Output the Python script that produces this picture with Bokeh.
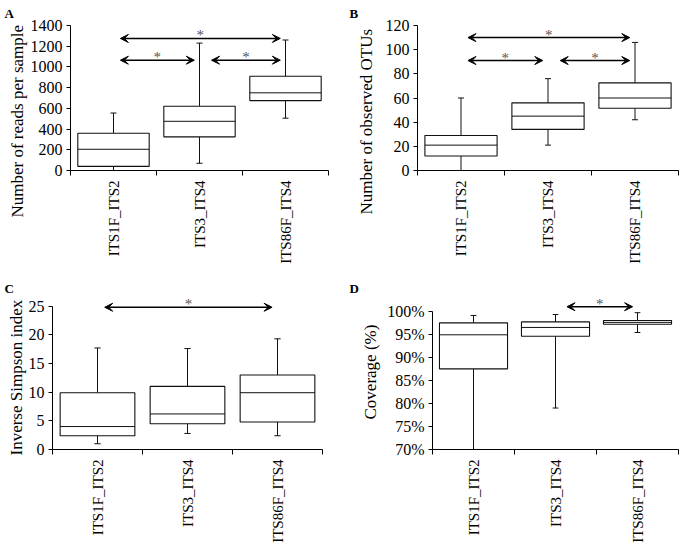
import math
from bokeh.plotting import figure
from bokeh.layouts import column, row
from bokeh.models import (FixedTicker, Arrow, VeeHead, Title, PrintfTickFormatter,
                          Range1d, ColumnDataSource)
from bokeh.embed import file_html
from bokeh.resources import INLINE
from bokeh.core.properties import value

categories = ["ITS1F_ITS2", "ITS3_ITS4", "ITS86F_ITS4"]

# Panel A: number of reads per sample
reads_min = [0, 70, 505]
reads_q1 = [40, 325, 675]
reads_med = [205, 475, 750]
reads_q3 = [360, 620, 910]
reads_max = [555, 1230, 1260]
reads_ticks = [0, 200, 400, 600, 800, 1000, 1200, 1400]
reads_sig = [(0, 2, 1275), (0, 1, 1065), (1, 2, 1065)]

# Panel B: number of observed OTUs
otus_min = [0, 21, 42]
otus_q1 = [12, 34, 51.5]
otus_med = [21, 45, 60]
otus_q3 = [29, 56, 72.5]
otus_max = [60, 76, 106]
otus_ticks = [0, 20, 40, 60, 80, 100, 120]
otus_sig = [(0, 2, 110), (0, 1, 91), (1, 2, 91)]

# Panel C: inverse Simpson index
simpson_min = [1.0, 2.8, 2.4]
simpson_q1 = [2.4, 4.5, 4.8]
simpson_med = [4.0, 6.2, 9.9]
simpson_q3 = [9.9, 11.0, 13.0]
simpson_max = [17.7, 17.6, 19.3]
simpson_ticks = [0, 5, 10, 15, 20, 25]
simpson_sig = [(0, 2, 24.8)]

# Panel D: coverage (%)
coverage_min = [70.0, 79.0, 95.4]
coverage_q1 = [87.5, 94.6, 97.2]
coverage_med = [94.9, 96.5, 97.6]
coverage_q3 = [97.5, 97.7, 98.0]
coverage_max = [99.1, 99.3, 99.7]
coverage_ticks = [70, 75, 80, 85, 90, 95, 100]
coverage_sig = [(1, 2, 101.0)]

FONT = "Liberation Serif"


def make_panel(letter, ylabel, mins, q1s, meds, q3s, maxs, ticks, yrange, sig,
               geom, title_standoff, title_offset, letter_standoff, fmt=None):
    left, fw, right, top, fh, bottom = geom
    n = len(categories)
    p = figure(frame_width=fw, frame_height=fh,
               min_border_left=left, min_border_right=right,
               min_border_top=top, min_border_bottom=bottom,
               x_range=Range1d(0, n), y_range=Range1d(*yrange),
               output_backend="svg", toolbar_location=None, tools="")
    p.xgrid.visible = False
    p.ygrid.visible = False
    p.outline_line_color = None
    p.background_fill_color = "white"
    p.border_fill_color = "white"

    centers = [i + 0.5 for i in range(n)]
    bw = 0.83
    cw = 0.035
    src = ColumnDataSource(dict(x=centers, lo=mins, q1=q1s, med=meds, q3=q3s, hi=maxs,
                                xl=[c - bw / 2 for c in centers], xr=[c + bw / 2 for c in centers],
                                cl=[c - cw for c in centers], cr=[c + cw for c in centers]))
    lc = "#111111"
    p.segment(x0="x", y0="q3", x1="x", y1="hi", source=src, line_color=lc, line_width=1)
    p.segment(x0="x", y0="lo", x1="x", y1="q1", source=src, line_color=lc, line_width=1)
    p.segment(x0="cl", y0="hi", x1="cr", y1="hi", source=src, line_color=lc, line_width=1)
    p.segment(x0="cl", y0="lo", x1="cr", y1="lo", source=src, line_color=lc, line_width=1)
    p.vbar(x="x", width=bw, bottom="q1", top="q3", source=src,
           fill_color="white", line_color=lc, line_width=1.1)
    p.segment(x0="xl", y0="med", x1="xr", y1="med", source=src, line_color=lc, line_width=1)

    # significance arrows
    sx, sy = [], []
    for (i, j, yv) in sig:
        x0 = centers[i] + (0.08 if i == 0 else 0.14)
        x1 = centers[j] - 0.06
        p.add_layout(Arrow(start=VeeHead(size=8, fill_color="black", line_color="black", line_width=1),
                           end=VeeHead(size=8, fill_color="black", line_color="black", line_width=1),
                           x_start=x0, y_start=yv, x_end=x1, y_end=yv,
                           line_color="black", line_width=1.5))
        sx.append((x0 + x1) / 2)
        sy.append(yv)
    p.text(x=sx, y=sy, text=["*"] * len(sx), text_align="center", text_baseline="middle",
           text_font=value(FONT), text_font_size="15px", text_color="#555555", y_offset=-3)

    # y axis
    ya = p.yaxis[0]
    ya.ticker = FixedTicker(ticks=ticks)
    ya.minor_tick_line_color = None
    ya.major_tick_in = 0
    ya.major_tick_out = 4
    ya.major_label_standoff = 4
    ya.axis_line_color = "black"
    ya.major_tick_line_color = "black"
    ya.major_label_text_font = FONT
    ya.major_label_text_font_size = "16px"
    ya.major_label_text_color = "black"
    if fmt is not None:
        ya.formatter = fmt
    ya.bounds = (ticks[0], ticks[-1])

    # y axis title as a side title (to control its position along the axis)
    p.add_layout(Title(text=ylabel, align="left", offset=title_offset,
                       standoff=title_standoff, text_font=FONT, text_font_size="17px",
                       text_font_style="normal", text_color="black"), "left")

    # x axis
    xa = p.xaxis[0]
    xa.ticker = FixedTicker(ticks=centers, minor_ticks=list(range(n + 1)))
    xa.major_label_overrides = {c: name for c, name in zip(centers, categories)}
    xa.major_tick_line_color = None
    xa.major_tick_in = 0
    xa.major_tick_out = 5
    xa.minor_tick_in = 0
    xa.minor_tick_out = 5
    xa.minor_tick_line_color = "black"
    xa.axis_line_color = "black"
    xa.major_label_orientation = math.pi / 2
    xa.major_label_standoff = 5
    xa.major_label_text_font = FONT
    xa.major_label_text_font_size = "15px"
    xa.major_label_text_color = "black"

    # panel letter
    p.title.text = letter
    p.title.align = "left"
    p.title.offset = -(left - 4)
    p.title.standoff = letter_standoff
    p.title.text_font = FONT
    p.title.text_font_size = "13px"
    p.title.text_font_style = "bold"
    p.title.text_color = "black"
    p.title.vertical_align = "top"
    return p


pA = make_panel("A", "Number of reads per sample", reads_min, reads_q1, reads_med,
                reads_q3, reads_max, reads_ticks, (0, 1400), reads_sig,
                (70, 258, 17, 25, 145, 110), 1, -47, 6)
pB = make_panel("B", "Number of observed OTUs", otus_min, otus_q1, otus_med,
                otus_q3, otus_max, otus_ticks, (0, 120), otus_sig,
                (72, 261, 1, 25, 145, 110), 14, -44, 6)
pC = make_panel("C", "Inverse Simpson index", simpson_min, simpson_q1, simpson_med, simpson_q3,
                simpson_max, simpson_ticks, (0, 26.5), simpson_sig,
                (52, 270, 23, 15, 152, 105), 0, -6, 0)
pD = make_panel("D", "Coverage (%)", coverage_min, coverage_q1, coverage_med, coverage_q3,
                coverage_max, coverage_ticks, (70, 103), coverage_sig,
                (87, 246, 1, 15, 152, 105), 10, 30, 0,
                fmt=PrintfTickFormatter(format="%d%%"))

layout = column(row(pA, pB), row(pC, pD))

with open("out.html", "w") as f:
    f.write(file_html(layout, INLINE))
